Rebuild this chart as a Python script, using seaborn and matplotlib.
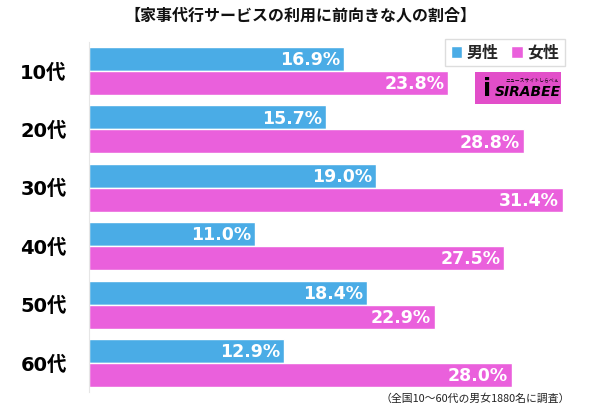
import pandas as pd
import matplotlib.pyplot as plt
import seaborn as sns
from matplotlib.patches import Rectangle

# chart values
ages = ['10代', '20代', '30代', '40代', '50代', '60代']
male = [16.9, 15.7, 19.0, 11.0, 18.4, 12.9]
female = [23.8, 28.8, 31.4, 27.5, 22.9, 28.0]
groups = ['男性', '女性']
colors = ['#4AACE6', '#EA60DC']

title = '【家事代行サービスの利用に前向きな人の割合】'
note = '（全国10〜60代の男女1880名に調査）'

df = pd.DataFrame({
    'age': ages * 2,
    'value': male + female,
    'sex': [groups[0]] * len(ages) + [groups[1]] * len(ages),
})

sns.set_theme(style='white')
plt.rcParams['font.family'] = ['Noto Sans CJK JP', 'DejaVu Sans']
heavy = ['DejaVu Sans', 'Noto Sans CJK JP']

fig = plt.figure(figsize=(6, 4.08), dpi=100)
ax = fig.add_axes([89 / 600, 0.0387, 501 / 600, 0.8588])

sns.barplot(data=df, x='value', y='age', hue='sex', hue_order=groups,
            palette=colors, orient='h', width=0.82, saturation=1,
            ax=ax, legend=True)

ax.set_xlim(0, 33.2)
ax.set_ylim(5.5, -0.5)
ax.set_xlabel('')
ax.set_ylabel('')
ax.set_xticks([])
ax.tick_params(axis='y', length=0, pad=16)
for lab in ax.get_yticklabels():
    lab.set_fontsize(14)
    lab.set_fontweight('bold')
    lab.set_family(heavy)
    lab.set_color('black')

for side in ['top', 'right', 'bottom']:
    ax.spines[side].set_visible(False)
ax.spines['left'].set_color('#e6e6e6')
ax.spines['left'].set_linewidth(0.8)

# value labels inside the bar ends
for cont in ax.containers:
    for p in cont:
        w = p.get_width()
        ax.text(w - 0.25, p.get_y() + p.get_height() / 2 + 0.02, f'{w:.1f}%',
                ha='right', va='center', color='white', fontsize=12.5,
                fontweight='bold', family='DejaVu Sans')

handles, labels = ax.get_legend_handles_labels()
ax.legend(handles, labels, loc='upper left', bbox_to_anchor=(445 / 600, 1 - 39 / 408),
          bbox_transform=fig.transFigure, ncol=2, frameon=True, fancybox=False,
          edgecolor='#dddddd', framealpha=1, prop={'size': 11.5, 'weight': 'bold'},
          handlelength=0.7, handleheight=0.7, handletextpad=0.3,
          columnspacing=0.8, borderpad=0.35, borderaxespad=0)

fig.text(0.5, 1 - 16 / 408, title, ha='center', va='center',
         fontsize=11.5, fontweight='bold', color='#111111')
fig.text(570 / 600, 1 - 399 / 408, note, ha='right', va='center',
         fontsize=7.8, color='#222222')

# SIRABEE logo
fig.patches.append(Rectangle((475 / 600, 1 - 104 / 408), 86 / 600, 32 / 408,
                             transform=fig.transFigure, facecolor='#E24EC9',
                             edgecolor='none'))
fig.text(487 / 600, 1 - 89 / 408, 'i', ha='center', va='center', fontsize=17,
         fontweight='bold', color='black', family='DejaVu Sans')
fig.text(528 / 600, 1 - 92 / 408, 'SIRABEE', ha='center', va='center',
         fontsize=10, fontweight='bold', style='italic', color='black',
         family='DejaVu Sans')
fig.text(532 / 600, 1 - 80 / 408, 'ニュースサイトしらべぇ', ha='center', va='center',
         fontsize=3.5, color='black')

fig.savefig('out.png', dpi=100)
